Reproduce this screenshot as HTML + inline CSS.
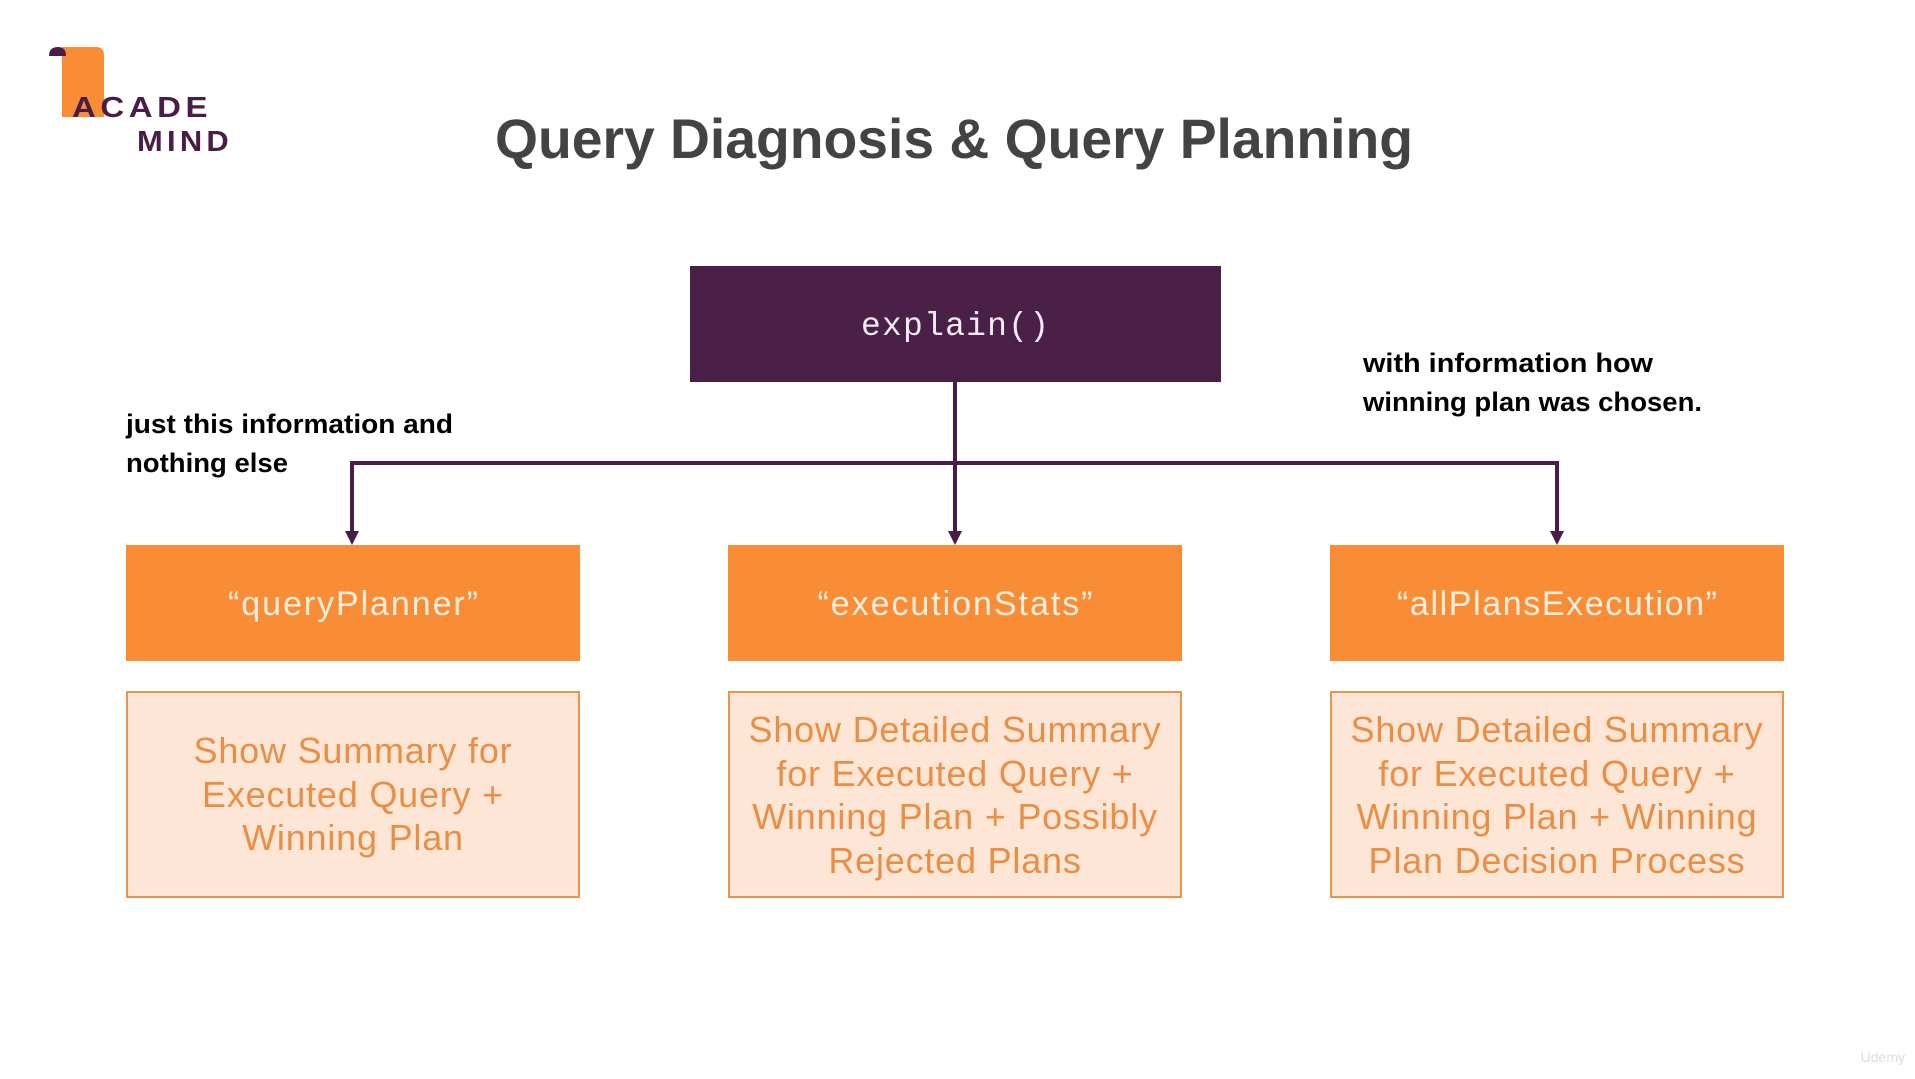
<!DOCTYPE html>
<html><head><meta charset="utf-8"><style>
html,body{margin:0;padding:0;background:#fff;width:1915px;height:1079px;overflow:hidden}
svg{display:block}
</style></head><body>
<svg width="1915" height="1079" viewBox="0 0 1915 1079" xmlns="http://www.w3.org/2000/svg">
<!-- logo -->
<path d="M62 47 h34 q8 0 8 8 v62 h-38 l-4 0z" fill="#f98d36"/>
<path d="M49 56 q0 -9 9 -9 q8 0 8 9z" fill="#4a1d47"/>
<text x="72" y="117" font-family="Liberation Sans, sans-serif" font-weight="bold" font-size="29" fill="#4a1d47" textLength="140" lengthAdjust="spacingAndGlyphs" letter-spacing="4">ACADE</text>
<text x="137" y="151" font-family="Liberation Sans, sans-serif" font-weight="bold" font-size="29" fill="#4a1d47" textLength="96" lengthAdjust="spacingAndGlyphs" letter-spacing="4">MIND</text>
<!-- title -->
<text x="495" y="158" font-family="Liberation Sans, sans-serif" font-weight="bold" font-size="56" fill="#434343" textLength="918" lengthAdjust="spacingAndGlyphs">Query Diagnosis &amp; Query Planning</text>
<!-- explain box -->
<rect x="690" y="266" width="531" height="116" fill="#4a1f48"/>
<text x="955" y="335" text-anchor="middle" font-family="Liberation Mono, monospace" font-size="33" fill="#f3ecf2" textLength="188" lengthAdjust="spacing">explain()</text>
<!-- connectors -->
<g stroke="#4a1d47" stroke-width="4" fill="none">
<line x1="955" y1="382" x2="955" y2="533"/>
<polyline points="352,533 352,463 1557,463 1557,533"/>
</g>
<g fill="#4a1d47">
<polygon points="345,531 359,531 352,545"/>
<polygon points="948,531 962,531 955,545"/>
<polygon points="1550,531 1564,531 1557,545"/>
</g>
<!-- annotations -->
<g font-family="Liberation Sans, sans-serif" font-weight="bold" font-size="27" fill="#000">
<text x="126" y="433" textLength="327" lengthAdjust="spacingAndGlyphs">just this information and</text>
<text x="126" y="472" textLength="162" lengthAdjust="spacingAndGlyphs">nothing else</text>
<text x="1363" y="372" textLength="290" lengthAdjust="spacingAndGlyphs">with information how</text>
<text x="1363" y="411" textLength="339" lengthAdjust="spacingAndGlyphs">winning plan was chosen.</text>
</g>
<!-- orange boxes -->
<g fill="#f98d36">
<rect x="126" y="545" width="454" height="116"/>
<rect x="728" y="545" width="454" height="116"/>
<rect x="1330" y="545" width="454" height="116"/>
</g>
<g font-family="Liberation Sans, sans-serif" font-size="34" fill="#fdeee0" text-anchor="middle">
<text x="353" y="615" textLength="250" lengthAdjust="spacing">“queryPlanner”</text>
<text x="955" y="615" textLength="275" lengthAdjust="spacing">“executionStats”</text>
<text x="1557" y="615" textLength="320" lengthAdjust="spacing">“allPlansExecution”</text>
</g>
<!-- light boxes -->
<g fill="#fde6d6" stroke="#e8964f" stroke-width="2">
<rect x="127" y="692" width="452" height="205"/>
<rect x="729" y="692" width="452" height="205"/>
<rect x="1331" y="692" width="452" height="205"/>
</g>
<g font-family="Liberation Sans, sans-serif" font-size="36" fill="#e98f45" text-anchor="middle" letter-spacing="0.8">
<text x="353" y="763">Show Summary for</text>
<text x="353" y="807">Executed Query +</text>
<text x="353" y="850">Winning Plan</text>
<text x="955" y="742">Show Detailed Summary</text>
<text x="955" y="786">for Executed Query +</text>
<text x="955" y="829">Winning Plan + Possibly</text>
<text x="955" y="873">Rejected Plans</text>
<text x="1557" y="742">Show Detailed Summary</text>
<text x="1557" y="786">for Executed Query +</text>
<text x="1557" y="829">Winning Plan + Winning</text>
<text x="1557" y="873">Plan Decision Process</text>
</g>
<text x="1905" y="1062" text-anchor="end" font-family="Liberation Sans, sans-serif" font-size="14" fill="#dcdcdc">Udemy</text>
</svg>
</body></html>
